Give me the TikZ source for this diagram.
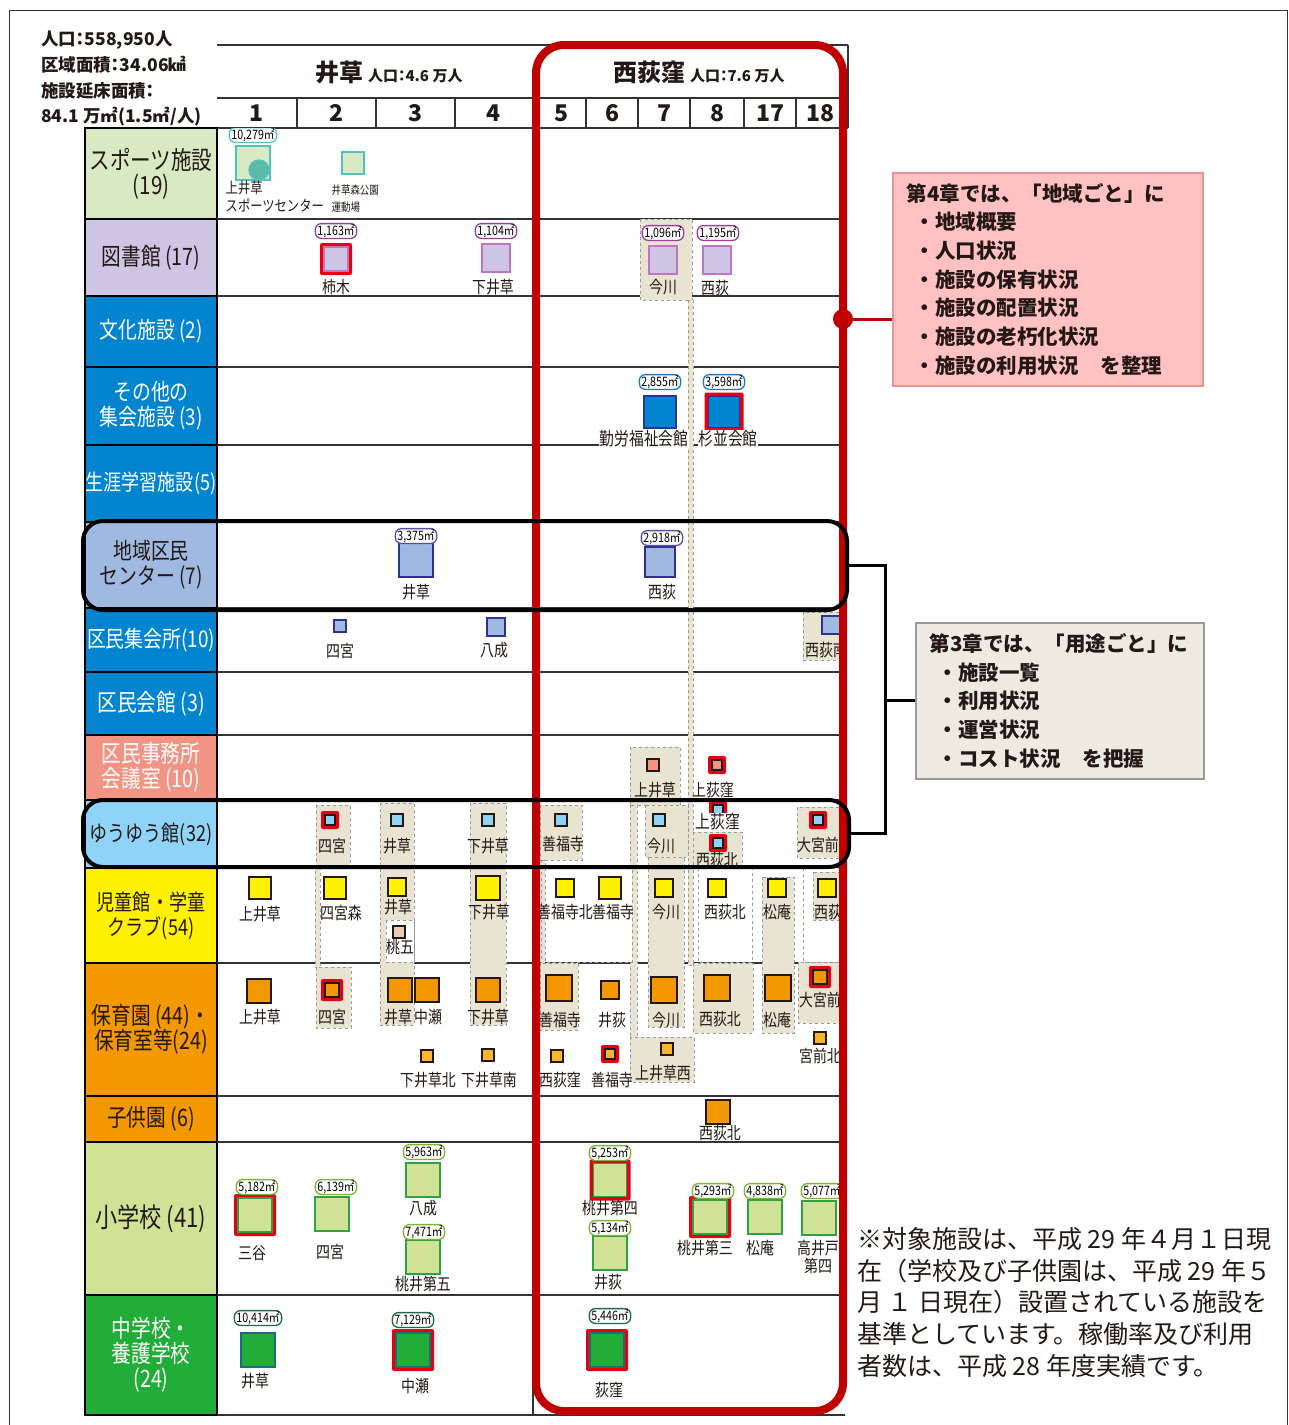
\documentclass[tikz,border=0pt]{standalone}
\usepackage{fontspec}
\setmainfont{Noto Sans CJK JP}
\newfontfamily\narrow[FakeStretch=0.82]{Noto Sans CJK JP}
\newfontfamily\boxfont[RawFeature=+palt]{Noto Sans CJK JP}
\usetikzlibrary{positioning}

\definecolor{txt}{HTML}{231815}
\definecolor{gridline}{HTML}{333333}
\definecolor{spofill}{HTML}{D8EAC4}
\definecolor{spoline}{HTML}{4DC3C3}
\definecolor{spocirc}{HTML}{5DB9A8}
\definecolor{libfill}{HTML}{CCC5E3}
\definecolor{libline}{HTML}{C173C6}
\definecolor{libpill}{HTML}{9B3E9E}
\definecolor{blufill}{HTML}{0284CE}
\definecolor{bluline}{HTML}{2E3192}
\definecolor{blupill}{HTML}{1F78C8}
\definecolor{ctrfill}{HTML}{9FB9E0}
\definecolor{ctrline}{HTML}{2E3192}
\definecolor{ctrpill}{HTML}{5A4FA8}
\definecolor{salfill}{HTML}{F29484}
\definecolor{salline}{HTML}{231815}
\definecolor{yuyfill}{HTML}{8FD4F6}
\definecolor{yuyline}{HTML}{231815}
\definecolor{yelfill}{HTML}{FFF100}
\definecolor{yelline}{HTML}{231815}
\definecolor{peafill}{HTML}{EACBB0}
\definecolor{pealine}{HTML}{231815}
\definecolor{orafill}{HTML}{F39800}
\definecolor{oraline}{HTML}{231815}
\definecolor{roofill}{HTML}{F8B62D}
\definecolor{rooline}{HTML}{231815}
\definecolor{elefill}{HTML}{CFE296}
\definecolor{eleline}{HTML}{2FA043}
\definecolor{elepill}{HTML}{7DB533}
\definecolor{jhsfill}{HTML}{22AC38}
\definecolor{jhsline}{HTML}{1B6E80}
\definecolor{jhspill}{HTML}{1E6B3F}
\definecolor{hotred}{HTML}{E60012}
\definecolor{areared}{HTML}{C00000}
\definecolor{beige}{HTML}{E9E3D2}
\definecolor{grpline}{HTML}{9A9A9A}
\definecolor{pinkbox}{HTML}{FFC1C1}
\definecolor{pinkline}{HTML}{E39494}
\definecolor{graybox}{HTML}{EDEBE1}
\definecolor{grayline}{HTML}{9A9A9A}

\begin{document}
\begin{tikzpicture}[x=1pt, y=-1pt,
      catbox/.style={draw=black, line width=2.5pt, minimum width=132, inner sep=0pt, align=center},
      sq/.style={draw=#1line, fill=#1fill, line width=1.3pt, inner sep=0pt},
      redframe/.style={fill=hotred, rounded corners=2pt, inner sep=0pt},
      pill/.style={draw=#1, fill=white, rounded corners=6pt, line width=1.3pt,
         inner xsep=2pt, inner ysep=0.5pt, font=\narrow\fontsize{13}{13}\selectfont},
      lbl/.style={inner sep=0.5pt, align=center, text=txt, font=\narrow\fontsize{17}{18}\selectfont},
      grp/.style={fill=beige, draw=grpline, dashed, line width=0.9pt},
      wgrp/.style={fill=white, draw=grpline, dashed, line width=0.9pt},
      grid/.style={draw=gridline, line width=1.5pt},
      num/.style={text=txt, font=\bfseries\fontsize{23}{23}\selectfont},
      secbox/.style={draw=black, line width=4pt, rounded corners=20pt, inner sep=0pt},
      link/.style={draw=black, line width=3pt},
      redlink/.style={draw=areared, line width=3pt}
      ]
\useasboundingbox (0,0) rectangle (1289,1425);
\draw[gridline, line width=1pt] (9,10) rectangle (1287,1440);

% totals
\node[anchor=north west, align=left, inner sep=0pt, text=txt,
      font=\boxfont\bfseries\fontsize{17.5}{25.7}\selectfont] (stats) at (41,31)
      {人口：558,950人\\区域面積：34.06㎢\\施設延床面積：\\84.1 万㎡(1.5㎡/人)};

% header
\node[text=txt, font=\boxfont\bfseries] (hIgusa) at (389,72)
      {{\fontsize{24}{24}\selectfont 井草}\ \ {\fontsize{15}{15}\selectfont 人口：4.6 万人}};
\node[text=txt, font=\boxfont\bfseries] (hNishi) at (699,72)
      {{\fontsize{24}{24}\selectfont 西荻窪}\ \ {\fontsize{15}{15}\selectfont 人口：7.6 万人}};
\foreach \n/\x in {1/257,2/336,3/415,4/493,5/561,6/612,7/664,8/717,17/770,18/820}
   \node[num] (n\n) at (\x,113) {\n};
\draw[grid] (217,45) -- (848,45) (217,98) -- (848,98) (85,128) -- (848,128);
\draw[grid] (848,45) -- (848,128);
\foreach \x in {297,376,455,586,638,690,744,796}
   \draw[grid] (\x,98) -- (\x,128);

% categories
\foreach \n/\ya/\yb/\c/\tc/\f/\t in {% name/top/bottom/fill/text/size/label
      spo/128/219/spofill/txt/25/{スポーツ施設\\(19)},
      lib/219/296/libfill/txt/24/{図書館 (17)},
      cul/296/367/blufill/white/23/{文化施設 (2)},
      oth/367/445/blufill/white/23/{その他の\\集会施設 (3)},
      lrn/445/522/blufill/white/22/{生涯学習施設(5)},
      ctr/522/608/ctrfill/txt/23/{地域区民\\センター (7)},
      mtg/608/672/blufill/white/23/{区民集会所(10)},
      kmk/672/735/blufill/white/24/{区民会館 (3)},
      off/735/800/salfill/white/24/{区民事務所\\会議室 (10)},
      yuy/800/868/yuyfill/txt/22/{ゆうゆう館(32)},
      kid/868/963/yelfill/txt/22/{児童館・学童\\クラブ(54)},
      nur/963/1096/orafill/txt/24/{保育園 (44)・\\保育室等(24)},
      kg/1096/1142/orafill/txt/24/{子供園 (6)},
      ele/1142/1295/elefill/txt/27/{小学校 (41)},
      jhs/1295/1415/jhsfill/white/24/{中学校・\\養護学校\\(24)}}
   \node[catbox, fill=\c, text=\tc, minimum height=\yb-\ya,
         font=\narrow\fontsize{\f}{25}\selectfont] (c\n) at (151,{(\ya+\yb)/2}) {\t};

\begin{scope}
\clip (217,128) rectangle (845,1415);
\foreach \y in {219,296,367,445,522,608,672,735,800,868,963,1096,1142,1295}
   \draw[grid] (217,\y) -- (845,\y);
\draw[grid] (533,45) -- (533,1415) (217,1415) -- (848,1415);

% groups
\foreach \xa/\ya/\xb/\yb in {
      640/219/692/300, 688/300/693/965, 630/747/680/805, 630/805/637/1037,
      630/1037/694/1082, 316/805/350/865, 315/865/320/967, 316/967/351/1028,
      380/803/414/1025, 470/803/506/1025, 540/805/582/860, 541/860/545/963,
      540/963/578/1030, 645/805/688/857, 648/857/684/1027, 693/832/742/868,
      693/963/753/1033, 762/877/794/1033, 797/807/845/858, 798/962/845/1023,
      803/612/845/660}
   \draw[grp] (\xa,\ya) rectangle (\xb,\yb);
\foreach \xa/\ya/\xb/\yb in {386/920/414/962, 545/868/632/962, 698/868/752/962, 803/868/845/962}
   \draw[wgrp] (\xa,\ya) rectangle (\xb,\yb);
\draw[grp] (813,872) rectangle (845,920);

% sports
\node[sq=spo, minimum size=34] (spo1) at (253,163) {};
\node[circle, fill=spocirc, draw=spoline, line width=1.3pt, minimum size=20, inner sep=0pt] (spo1c) at (259,170) {};
\node[lbl, align=left, anchor=north west, font=\narrow\fontsize{15}{18}\selectfont] (spo1-t) at (225,180) {上井草\\スポーツセンター};
\node[sq=spo, minimum size=22] (spo2) at (353,163) {};
\node[lbl, align=left, anchor=north west, font=\narrow\fontsize{11.5}{17}\selectfont] (spo2-t) at (331,184) {井草森公園\\運動場};

% facilities
\foreach \n/\x/\y/\s/\h/\k/\t/\lx/\ly in {% name/x/y/size/red/kind/label/label x/label y
      lib1/336/259/24/1/lib/柿木/336/287, lib2/496/258/28/0/lib/下井草/493/287,
      lib3/663/260/28/0/lib/今川/663/287, lib4/717/260/28/0/lib/西荻/715/288,
      ctr1/416/560/34/0/ctr/井草/416/592, ctr2/660/562/30/0/ctr/西荻/662/592,
      mtg1/340/626/12/0/ctr/四宮/340/651, mtg2/496/627/18/0/ctr/八成/494/650,
      mtg3/831/625/18/0/ctr/西荻南/826/650,
      off1/653/765/12/0/sal/上井草/655/790, off2/717/765/10/1/sal/上荻窪/713/790,
      yu1/330/820/10/1/yuy/四宮/332/846, yu2/397/820/12/0/yuy/井草/397/846,
      yu3/488/820/12/0/yuy/下井草/488/846, yu4/561/820/12/0/yuy/善福寺/563/844,
      yu5/659/820/12/0/yuy/今川/661/846, yu7/718/843/10/1/yuy/西荻北/717/860,
      yu8/818/820/10/1/yuy/大宮前/818/845,
      kid1/260/888/22/0/yel/上井草/260/914, kid2/335/888/22/0/yel/四宮森/341/913,
      kid3/397/887/18/0/yel/井草/398/907, kid4/399/932/12/0/pea/桃五/400/947,
      kid5/488/888/24/0/yel/下井草/489/912, kid6/565/888/18/0/yel/善福寺北/565/912,
      kid7/610/888/22/0/yel/善福寺/613/912, kid8/664/888/18/0/yel/今川/666/912,
      kid9/717/888/18/0/yel/西荻北/725/912, kid10/777/888/18/0/yel/松庵/777/912,
      kid11/827/888/18/0/yel/西荻/828/912,
      nur1/259/991/24/0/ora/上井草/260/1017, nur2/332/990/14/1/ora/四宮/332/1017,
      nur3/400/990/24/0/ora/井草/398/1017, nur4/427/990/24/0/ora/中瀬/428/1017,
      nur5/488/990/24/0/ora/下井草/488/1017, nur6/559/988/26/0/ora/善福寺/560/1020,
      nur7/610/990/18/0/ora/井荻/612/1020, nur8/664/990/26/0/ora/今川/666/1020,
      nur9/717/988/26/0/ora/西荻北/720/1019, nur10/778/988/26/0/ora/松庵/777/1020,
      nur11/820/977/14/1/ora/大宮前/820/1000,
      room1/427/1056/12/0/roo/下井草北/428/1080, room2/488/1055/12/0/roo/下井草南/489/1080,
      room3/557/1056/12/0/roo/西荻窪/560/1080, room4/610/1054/10/1/roo/善福寺/612/1080,
      room5/667/1049/12/0/roo/上井草西/663/1073, room6/820/1038/12/0/roo/宮前北/820/1056,
      kg1/718/1112/24/0/ora/西荻北/720/1133,
      el1/255/1215/34/1/ele/三谷/252/1253, el2/332/1214/34/0/ele/四宮/330/1252,
      el3/423/1180/34/0/ele/八成/423/1208, el4/423/1257/34/0/ele/桃井第五/423/1284,
      el5/610/1180/33/1/ele/桃井第四/610/1208, el6/610/1253/34/0/ele/井荻/608/1282,
      el7/710/1217/34/1/ele/桃井第三/705/1248, el8/765/1217/34/0/ele/松庵/760/1248,
      el9/819/1218/34/0/ele/{高井戸\\第四}/818/1257,
      jh1/258/1350/34/0/jhs/井草/255/1381, jh2/413/1350/34/1/jhs/中瀬/415/1386,
      jh3/607/1350/34/1/jhs/荻窪/609/1390}
   {
   \ifnum\h=1 \node[redframe, minimum size=\s+8] at (\x,\y) {}; \fi
   \node[sq/.expanded=\k, minimum size=\s] (\n) at (\x,\y) {};
   \node[lbl] (\n-t) at (\lx,\ly) {\t};
   }
\foreach \n/\x/\y/\s/\h/\k/\t/\lx/\ly in {
      hall1/660/412/32/0/blu/勤労福祉会館/644/439, hall2/724/412/31/1/blu/杉並会館/728/439,
      yu6/718/810/10/1/yuy/上荻窪/718/822}
   {
   \ifnum\h=1 \node[redframe, minimum size=\s+8] at (\x,\y) {}; \fi
   \node[sq/.expanded=\k, minimum size=\s] (\n) at (\x,\y) {};
   \node[lbl, fill=white, font=\narrow\fontsize{18}{18}\selectfont] (\n-t) at (\lx,\ly) {\t};
   }

% floor areas
\foreach \n/\x/\y/\c/\t in {
      a1/253/135/spoline/{10,279㎡}, a2/336/231/libpill/{1,163㎡}, a3/496/231/libpill/{1,104㎡},
      a4/663/233/libpill/{1,096㎡}, a5/718/233/libpill/{1,195㎡}, a6/660/382/blupill/{2,855㎡},
      a7/724/382/blupill/{3,598㎡}, a8/416/536/ctrpill/{3,375㎡}, a9/662/538/ctrpill/{2,918㎡},
      a10/257/1187/elepill/{5,182㎡}, a11/336/1187/elepill/{6,139㎡}, a12/424/1152/elepill/{5,963㎡},
      a13/424/1232/elepill/{7,471㎡}, a14/610/1153/elepill/{5,253㎡}, a15/610/1228/elepill/{5,134㎡},
      a16/713/1191/elepill/{5,293㎡}, a17/765/1191/elepill/{4,838㎡}, a18/822/1191/elepill/{5,077㎡},
      a19/258/1318/jhspill/{10,414㎡}, a20/413/1320/jhspill/{7,129㎡}, a21/610/1316/jhspill/{5,446㎡}}
   \node[pill=\c] (\n) at (\x,\y) {\t};
\end{scope}

% region and use frames
\node[draw=areared, line width=8pt, rounded corners=28pt, minimum width=307, minimum height=1366, inner sep=0pt] (west) at (689.5,728) {};
\node[secbox, minimum width=764, minimum height=89] (sec1) at (465,565.5) {};
\node[secbox, minimum width=766, minimum height=67] (sec2) at (466,833.5) {};
\node[circle, fill=areared, minimum size=20, inner sep=0pt] (rdot) at (843,319) {};

\node[anchor=north west, fill=pinkbox, draw=pinkline, line width=1.5pt, text=txt,
      text width=282, minimum height=213, align=left, inner xsep=14pt, inner ysep=9pt,
      font=\bfseries\fontsize{20.5}{28.7}\selectfont] (ch4) at (892,172)
      {第4章では、「地域ごと」に\\
       \hspace*{8pt}・地域概要\\
       \hspace*{8pt}・人口状況\\
       \hspace*{8pt}・施設の保有状況\\
       \hspace*{8pt}・施設の配置状況\\
       \hspace*{8pt}・施設の老朽化状況\\
       \hspace*{8pt}・施設の利用状況\hspace{22pt}を整理};
\node[anchor=north west, fill=graybox, draw=grayline, line width=1.5pt, text=txt,
      text width=260, minimum height=156, align=left, inner xsep=14pt, inner ysep=9pt,
      font=\bfseries\fontsize{20.5}{28.7}\selectfont] (ch3) at (915,622)
      {第3章では、「用途ごと」に\\
       \hspace*{8pt}・施設一覧\\
       \hspace*{8pt}・利用状況\\
       \hspace*{8pt}・運営状況\\
       \hspace*{8pt}・コスト状況\hspace{22pt}を把握};

\coordinate (jn1) at (885,565.5);
\coordinate (jn2) at (885,833.5);
\coordinate (jn3) at (885,700);
\draw[link] (sec1.east) -- (jn1) -- (jn2) -- (sec2.east);
\draw[link] (jn3) -- (ch3.west |- jn3);
\draw[redlink] (rdot) -- (ch4.west |- rdot);

\node[anchor=north west, align=left, inner sep=0pt, text=txt,
      font=\fontsize{25}{31.8}\selectfont] (note) at (857,1227)
      {※対象施設は、平成 29 年４月１日現\\
       在（学校及び子供園は、平成 29 年５\\
       月 １ 日現在）設置されている施設を\\
       基準としています。稼働率及び利用\\
       者数は、平成 28 年度実績です。};
\end{tikzpicture}
\end{document}
